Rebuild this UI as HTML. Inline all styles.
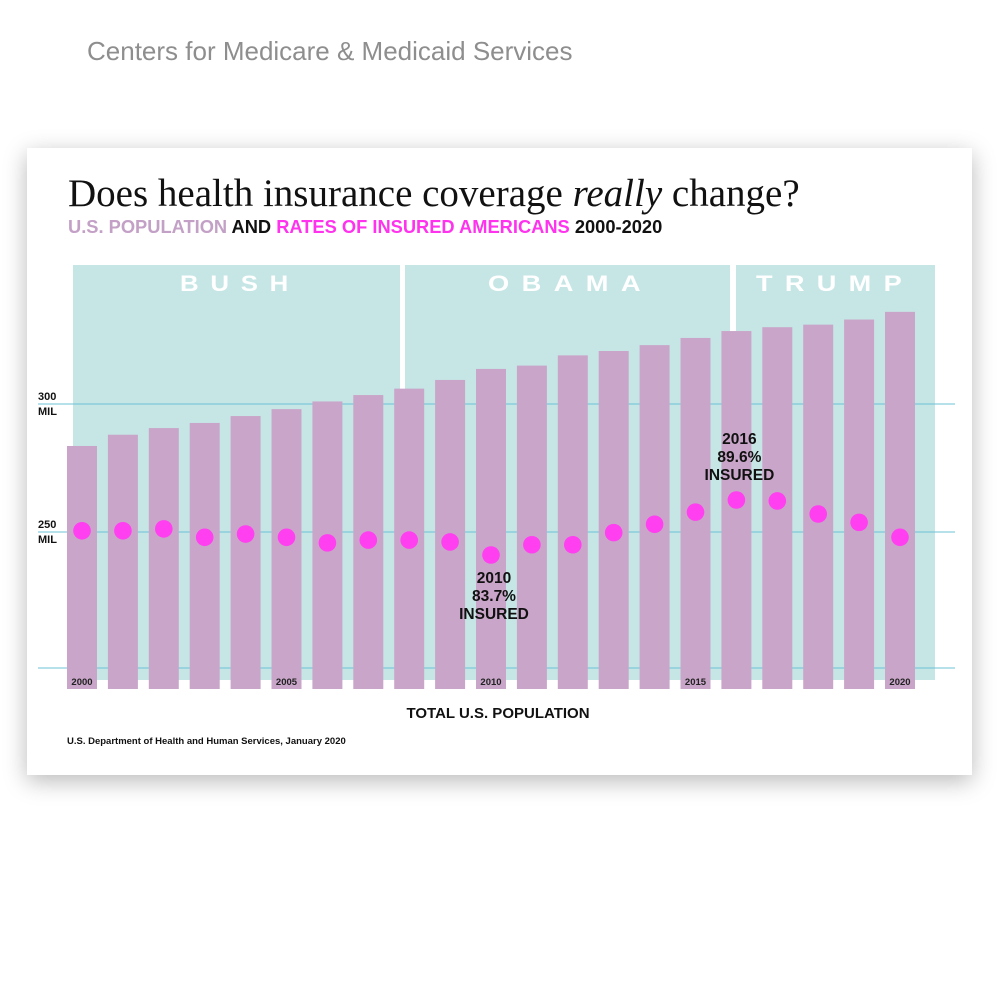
<!DOCTYPE html>
<html><head><meta charset="utf-8"><style>
body{margin:0;width:1000px;height:1000px;background:#fff;position:relative;overflow:hidden;font-family:"Liberation Sans",sans-serif}
#hdr{position:absolute;left:87px;top:36px;font-size:26px;color:#8e8e8e}
#card{position:absolute;left:27px;top:148px;width:945px;height:627px;background:#fff;box-shadow:0 6px 22px rgba(0,0,0,0.28)}
</style></head><body>
<div id="hdr">Centers for Medicare &amp; Medicaid Services</div>
<div id="card"></div>
<svg id="chart" width="1000" height="1000" style="position:absolute;left:0;top:0">
<text x="68" y="206" font-family="Liberation Serif,serif" font-size="39" fill="#111">Does health insurance coverage <tspan font-style="italic">really</tspan> change?</text>
<text x="68" y="233" font-size="18.3" font-weight="bold"><tspan fill="#c3a0c6">U.S. POPULATION</tspan><tspan fill="#111"> AND </tspan><tspan fill="#ff33ee">RATES OF INSURED AMERICANS</tspan><tspan fill="#111"> 2000-2020</tspan></text>
<g id="panels"></g>
<g id="grid"></g>
<g id="bars"></g>
<g id="dots"></g>
<g id="labels"></g>
<text x="498" y="718" text-anchor="middle" font-size="15" font-weight="bold" fill="#111">TOTAL U.S. POPULATION</text>
<text x="67" y="744" font-size="9.5" font-weight="bold" fill="#111">U.S. Department of Health and Human Services, January 2020</text>
</svg>
<script>
const years=[2000,2001,2002,2003,2004,2005,2006,2007,2008,2009,2010,2011,2012,2013,2014,2015,2016,2017,2018,2019,2020];
const population=[283.6,288,290.6,292.6,295.3,298,301,303.5,306,309.4,313.7,315,319,320.7,323,325.8,328.5,330,331,333,336];
const insuredRate=[86.3,86.3,86.5,85.6,85.95,85.6,85.0,85.3,85.3,85.1,83.7,84.8,84.8,86.1,87.0,88.3,89.6,89.5,88.1,87.2,85.6];
const yTicks=[300,250];
const presidents=["BUSH","OBAMA","TRUMP"];
const NS="http://www.w3.org/2000/svg";
function mk(tag,attrs,parent){const e=document.createElementNS(NS,tag);for(const k in attrs)e.setAttribute(k,attrs[k]);parent.appendChild(e);return e;}
const x0=67,pitch=40.9,bw=30;
const xBar=i=>x0+i*pitch;
const yPop=v=>404-(v-300)*2.56;
const yRate=r=>555-(r-83.7)*9.32;
const barBottom=689;
const pg=document.getElementById('panels');
const panelL=[73,405,736],panelR=[400,730,935];
const labelL=[180,488,756],labelW=[120,165,158];
presidents.forEach((p,i)=>{
 const r=mk('rect',{x:panelL[i],y:265,width:panelR[i]-panelL[i],height:415,fill:'#c6e6e5'},pg);
 
 
 const t=mk('text',{x:labelL[i],y:291,'font-size':22,'font-weight':'bold',fill:'#fff','letter-spacing':10,textLength:labelW[i],lengthAdjust:'spacingAndGlyphs'},pg);
 t.textContent=p;
 
 
});
const gg=document.getElementById('grid');
yTicks.forEach(v=>{
 const y=yPop(v);
 const l=mk('line',{x1:38,x2:955,y1:y,y2:y,stroke:'#6cc3d6','stroke-width':1},gg);
 
 
 const t=mk('text',{x:38,y:y-4,'font-size':11,'font-weight':'bold',fill:'#111'},gg);
 t.textContent=v;
 
 
 const t2=mk('text',{x:38,y:y+11,'font-size':11,'font-weight':'bold',fill:'#111'},gg);
 t2.textContent='MIL';
 
 
});
const bl=mk('line',{x1:38,x2:955,y1:668,y2:668,stroke:'#6cc3d6','stroke-width':1},gg);


const bg=document.getElementById('bars');
years.forEach((yr,i)=>{
 const y=yPop(population[i]);
 const r=mk('rect',{x:xBar(i),y:y,width:bw,height:barBottom-y,fill:'#c9a6c9'},bg);
 
 
 if(yr%5===0){
  const t=mk('text',{x:xBar(i)+bw/2,y:685,'text-anchor':'middle','font-size':9.5,'font-weight':'bold',fill:'#222'},bg);
  t.textContent=yr;
  
  
 }
});
const dg=document.getElementById('dots');
years.forEach((yr,i)=>{
 const c=mk('circle',{cx:xBar(i)+bw/2,cy:yRate(insuredRate[i]),r:8.8,fill:'#ff3ff0'},dg);
 
 
});
const lg=document.getElementById('labels');
function ann(idx,yStart){
 const cx=xBar(idx)+bw/2+3;
 const lines=[String(years[idx]),insuredRate[idx].toFixed(1)+'%','INSURED'];
 lines.forEach((s,k)=>{
  const t=mk('text',{x:cx,y:yStart+k*18,'text-anchor':'middle','font-size':15.5,'font-weight':'bold',fill:'#111'},lg);
  t.textContent=s;
  
  
 });
}
ann(10,yRate(insuredRate[10])+28);
ann(16,yRate(insuredRate[16])-56);
</script>
</body></html>
